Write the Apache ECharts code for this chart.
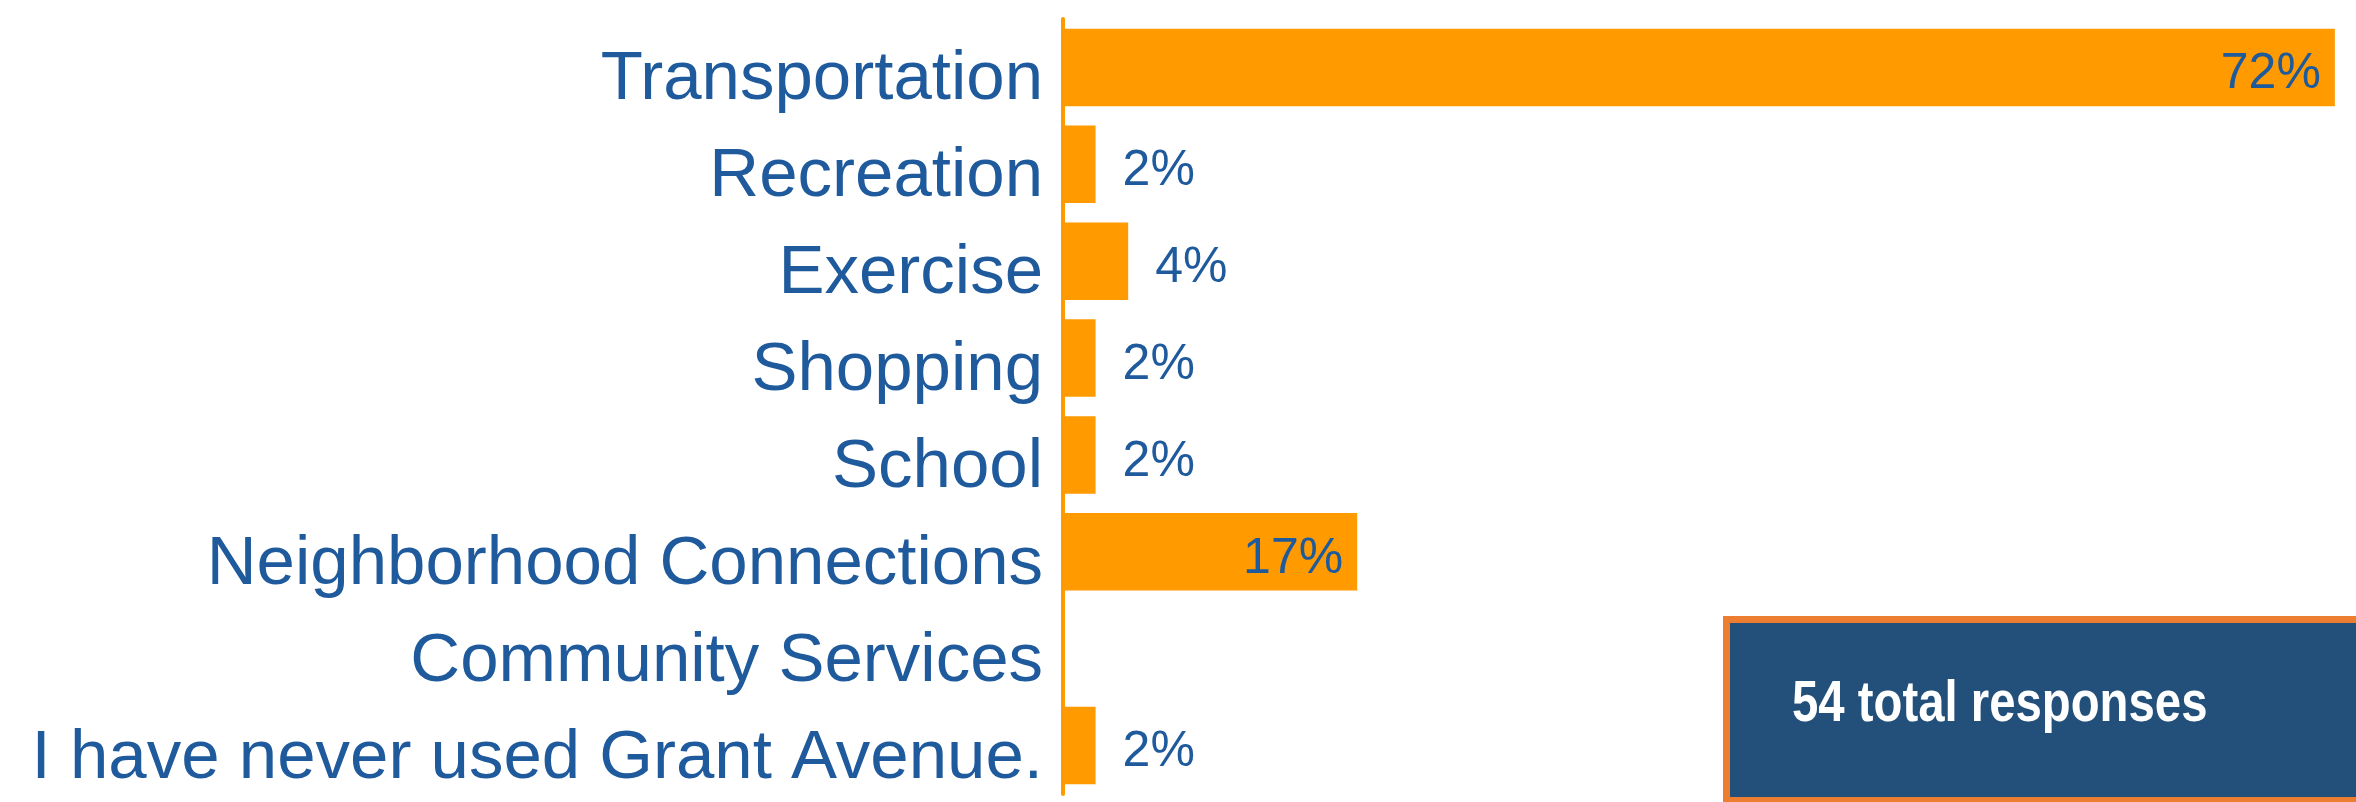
<!DOCTYPE html>
<html>
<head>
<meta charset="utf-8">
<script src="https://cdn.jsdelivr.net/npm/echarts@6/dist/echarts.min.js"></script>
<style>
  html, body { margin: 0; padding: 0; background: #fff; }
  #chart { width: 2356px; height: 802px; }
</style>
</head>
<body>
<div id="chart"></div>
<script>
// 分类
const categories = [
  'Transportation',
  'Recreation',
  'Exercise',
  'Shopping',
  'School',
  'Neighborhood Connections',
  'Community Services',
  'I have never used Grant Avenue.'
];
// 百分比
const percentValues = [72.2, 1.85, 3.7, 1.85, 1.85, 16.7, 0, 1.85];
// bars whose label sits inside the bar end
const insideLabels = ['Transportation', 'Neighborhood Connections'];
const totalText = '54 total responses';

const blue = '#1E5A9C';
const orange = '#FF9A00';

const chart = echarts.init(document.getElementById('chart'));

let seriesData = [];
for (let i = 0; i < categories.length; i++) {
  let inside = insideLabels.indexOf(categories[i]) > -1;
  seriesData.push({
    value: percentValues[i],
    label: {
      position: inside ? 'insideRight' : 'right',
      distance: inside ? 14 : 27
    }
  });
}

chart.setOption({
  backgroundColor: '#fff',
  animation: false,
  grid: { left: 1063, right: 0, top: 19, bottom: 8 },
  xAxis: {
    type: 'value',
    min: 0,
    max: 73.4,
    show: false
  },
  yAxis: {
    type: 'category',
    data: categories,
    inverse: true,
    axisLine: { show: true, lineStyle: { color: orange, width: 4 } },
    axisTick: { show: false },
    splitLine: { show: false },
    axisLabel: {
      color: blue,
      fontFamily: 'Liberation Sans',
      fontSize: 69,
      margin: 20,
      // push text a little below the band centre, like the original
      verticalAlign: 'top',
      lineHeight: 26
    }
  },
  series: [{
    type: 'bar',
    data: seriesData,
    barCategoryGap: '20%',
    itemStyle: { color: orange },
    label: {
      show: true,
      color: blue,
      fontFamily: 'Liberation Sans',
      fontSize: 50,
      verticalAlign: 'top',
      lineHeight: 14,
      formatter: p => p.value > 0 ? Math.round(p.value) + '%' : ''
    }
  }],
  // 总数说明框
  graphic: [
    {
      type: 'rect',
      left: 1723,
      top: 616,
      shape: { width: 700, height: 181 },
      style: { fill: '#22507A', stroke: '#ED7D31', lineWidth: 7 }
    },
    {
      type: 'text',
      x: 1792,
      y: 705,
      scaleX: 0.83,
      style: {
        text: totalText,
        fill: '#fff',
        font: 'bold 57px "Liberation Sans"',
        verticalAlign: 'middle'
      }
    }
  ]
});
</script>
</body>
</html>
